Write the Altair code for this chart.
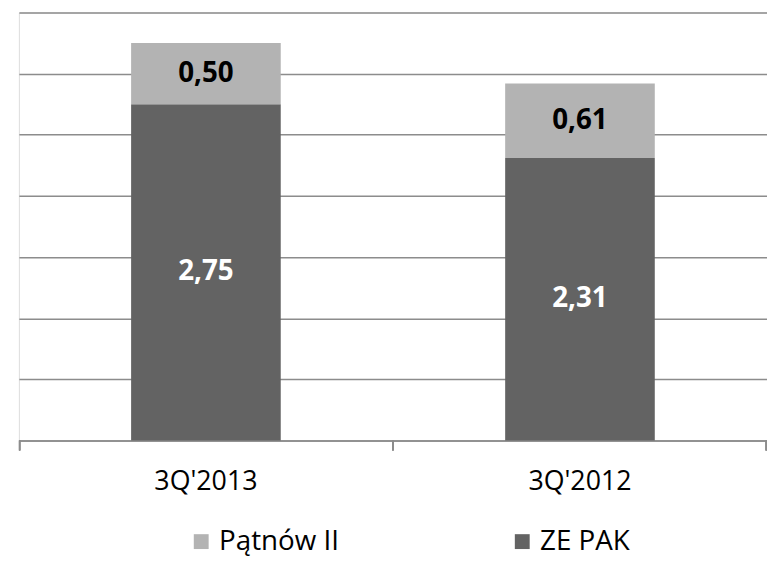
import altair as alt
import pandas as pd

categories = ["3Q'2013", "3Q'2012"]
series = ["ZE PAK", "Pątnów II"]  # bottom to top
ze_pak = [2.75, 2.31]
patnow = [0.50, 0.61]
labels_ze = ["2,75", "2,31"]
labels_pat = ["0,50", "0,61"]
legend_order = ["Pątnów II", "ZE PAK"]
colors = ["#b3b3b3", "#636363"]

rows = []
for i, c in enumerate(categories):
    rows.append({"cat": c, "series": "ZE PAK", "value": ze_pak[i], "label": labels_ze[i], "ord": 0})
    rows.append({"cat": c, "series": "Pątnów II", "value": patnow[i], "label": labels_pat[i], "ord": 1})
df = pd.DataFrame(rows)

FONT = "Open Sans"
GRID = "#8c8c8c"
W, H = 755, 432

x = alt.X("cat:N", sort=categories, title=None,
          scale=alt.Scale(paddingInner=0.6, paddingOuter=0.3),
          axis=alt.Axis(labelAngle=0, labelFont=FONT, labelFontSize=27, labelColor="#000000",
                        labelPadding=28, ticks=False, domainColor=GRID, domainWidth=1.5, grid=False))

base = alt.Chart(df).transform_stack(
    stack="value", groupby=["cat"], as_=["y0", "y1"], sort=[alt.SortField("ord")]
).transform_calculate(mid="(datum.y0 + datum.y1) / 2")

bars = base.mark_bar().encode(
    x=x,
    y=alt.Y("y0:Q", title=None, scale=alt.Scale(domain=[0, 3.5], nice=False),
            axis=alt.Axis(values=[0, 0.5, 1, 1.5, 2, 2.5, 3, 3.5], labels=False, ticks=False,
                          domain=False, gridColor=GRID, gridWidth=1.5, gridOpacity=1)),
    y2="y1:Q",
    color=alt.Color("series:N", scale=alt.Scale(domain=legend_order, range=colors),
                    legend=alt.Legend(title=None, orient="none", legendX=170, legendY=520,
                                      direction="horizontal", symbolType="square", symbolSize=225,
                                      symbolStrokeWidth=0, labelFont=FONT, labelFontSize=28,
                                      labelColor="#000000", labelOffset=4, columnPadding=170,
                                      padding=0, symbolOpacity=1, labelLimit=300)),
)

text = base.mark_text(font=FONT, fontSize=28, fontWeight="bold", baseline="middle").encode(
    x=alt.X("cat:N", sort=categories),
    y=alt.Y("mid:Q"),
    text="label:N",
    color=alt.Color("series:N", scale=alt.Scale(domain=legend_order, range=["#000000", "#ffffff"]),
                    legend=None),
)

# category boundary ticks below the baseline (axis decoration)
tick_rules = [
    alt.Chart(df).mark_rule(color=GRID, strokeWidth=1.5).encode(
        x=alt.value(px), y=alt.value(H), y2=alt.value(H + 10))
    for px in (0.75, W / 2, W - 0.75)
]

chart = alt.layer(bars, text, *tick_rules).resolve_scale(color="independent").properties(
    width=W, height=H,
    padding={"left": 11, "top": 2, "right": 0, "bottom": 116},
    autosize=alt.AutoSizeParams(type="none"),
).configure_view(stroke=None).configure(background="#ffffff")

chart.save("out.html", embed_options={"renderer": "svg", "actions": False})
